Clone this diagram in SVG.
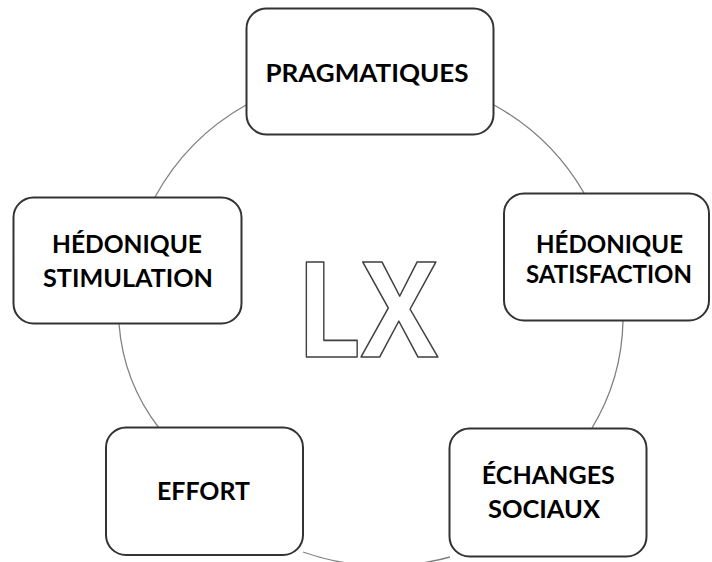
<svg xmlns="http://www.w3.org/2000/svg" width="712" height="562" viewBox="0 0 712 562">
<style>
.box{fill:#ffffff;stroke:#333333;stroke-width:2}
.ring{fill:none;stroke:#808080;stroke-width:1.3}
.lbl{font-family:Lato,"Liberation Sans",sans-serif;font-weight:700;font-size:25px;fill:#000000;text-anchor:middle}
.big{font-family:"Open Sans","Liberation Sans",sans-serif;font-weight:700;font-size:132px;fill:#ffffff;stroke:#404040;stroke-width:1.6;stroke-linejoin:round}
</style>
<rect width="712" height="562" fill="#ffffff"/>
<g id="connectors">
<path class="ring" d="M155,197 A235,235 0 0 1 246,105"/>
<path class="ring" d="M494,105 A235,235 0 0 1 584,193"/>
<path class="ring" d="M623,321 A215,215 0 0 1 592,428"/>
<path class="ring" d="M450,557 A245,245 0 0 1 303,552"/>
<path class="ring" d="M159,428 A195,195 0 0 1 119,324"/>
</g>
<g id="center">
<text class="big" x="296" y="357" textLength="142" lengthAdjust="spacingAndGlyphs">LX</text>
</g>
<g id="node-pragmatiques">
<rect class="box" x="246.5" y="8.5" width="247" height="126" rx="20"/>
<text class="lbl" x="367" y="82" textLength="203" lengthAdjust="spacingAndGlyphs">PRAGMATIQUES</text>
</g>
<g id="node-stimulation">
<rect class="box" x="13.5" y="197.5" width="228" height="126" rx="20"/>
<text class="lbl" x="127" y="253" textLength="150" lengthAdjust="spacingAndGlyphs">HÉDONIQUE</text>
<text class="lbl" x="128" y="287" textLength="170" lengthAdjust="spacingAndGlyphs">STIMULATION</text>
</g>
<g id="node-satisfaction">
<rect class="box" x="504" y="193.5" width="205" height="127" rx="20"/>
<text class="lbl" x="609.5" y="253" textLength="147" lengthAdjust="spacingAndGlyphs">HÉDONIQUE</text>
<text class="lbl" x="609" y="283" textLength="166" lengthAdjust="spacingAndGlyphs">SATISFACTION</text>
</g>
<g id="node-effort">
<rect class="box" x="106" y="427.5" width="197" height="127.5" rx="20"/>
<text class="lbl" x="203.5" y="500" textLength="93" lengthAdjust="spacingAndGlyphs">EFFORT</text>
</g>
<g id="node-echanges">
<rect class="box" x="449.5" y="428.5" width="197" height="128" rx="20"/>
<text class="lbl" x="548.3" y="484" textLength="133" lengthAdjust="spacingAndGlyphs">ÉCHANGES</text>
<text class="lbl" x="544" y="518" textLength="112" lengthAdjust="spacingAndGlyphs">SOCIAUX</text>
</g>
</svg>
